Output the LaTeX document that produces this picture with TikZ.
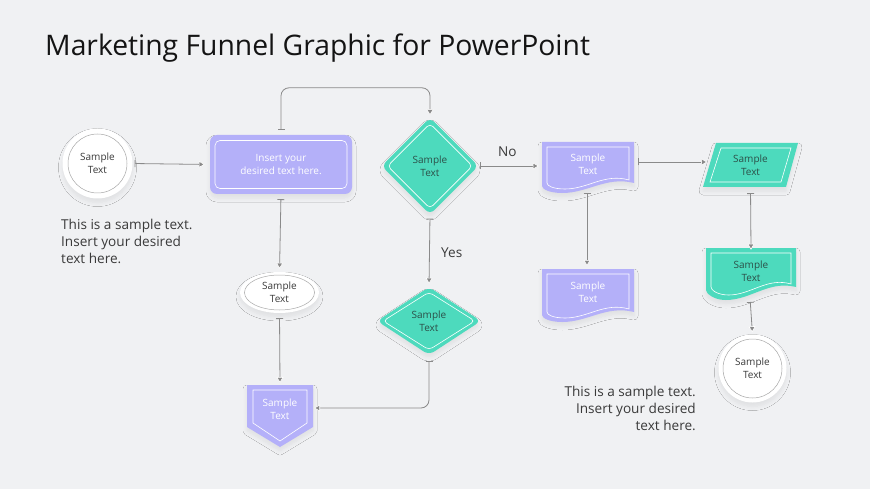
\documentclass[tikz,border=0pt]{standalone}
\usepackage{fontspec}
\setmainfont{Open Sans}
\usetikzlibrary{arrows.meta,shapes.geometric,calc,shadows.blur}
\definecolor{bg}{HTML}{F0F1F3}
\definecolor{purp}{HTML}{B4B0F9}
\definecolor{teal}{HTML}{4DDABD}
\definecolor{tealtxt}{HTML}{2C4F48}
\definecolor{conngray}{HTML}{8A8A8A}
\definecolor{txtgray}{HTML}{3A3A3A}
\definecolor{ringgray}{HTML}{A8A8A8}
\newcommand\docpath[5]{(#1,#2) -- ({#1+#3},#2) -- ({#1+#3},{#2+#4-3}) .. controls ({#1+0.7*#3},{#2+#4-10}) and ({#1+0.5*#3},{#2+#4+#5}) .. ({#1+0.22*#3},{#2+#4+#5}) .. controls ({#1+0.08*#3},{#2+#4+#5}) and (#1,{#2+#4+3}) .. (#1,#2+#4) -- cycle}
\tikzset{
  smalltxt/.style={font=\fontsize{10}{13}\selectfont, align=center, inner sep=0pt},
  conn/.style={draw=conngray, line width=0.8pt,
    {Bar[width=7pt,line width=0.8pt]}-{Triangle[length=6pt,width=7pt,color=white,fill=conngray,line width=0.6pt]}},
  lbl/.style={font=\fontsize{13.6}{17}\selectfont, text=txtgray, inner sep=0pt},
  shd/.style={blur shadow={shadow xshift=0pt, shadow yshift=-4pt, shadow blur steps=8, shadow opacity=7, shadow blur radius=4pt}},
}
\begin{document}
\begin{tikzpicture}[x=1pt,y=-1pt]
\fill[bg] (0,0) rectangle (870,489);
\useasboundingbox (0,0) rectangle (870,489);
% title
\node[anchor=base west, inner sep=0pt, font=\fontsize{28.3}{32}\selectfont, text=black!92] (title) at (45,56) {Marketing Funnel Graphic for PowerPoint};

% circle 1
\node[circle, fill=white, minimum size=70, inner sep=0pt, shd] (c1) at (97.5,163.5) {};
\node[circle, draw=ringgray, line width=0.5pt, minimum size=59, smalltxt, text=txtgray] (c1i) at (c1) {Sample\\Text};

% rectangle
\node[rectangle, rounded corners=7, fill=purp, minimum width=142, minimum height=59, inner sep=0pt, shd] (r1) at (281,164.5) {};
\node[rectangle, rounded corners=5, draw=white, line width=0.6pt, minimum width=132, minimum height=48, smalltxt, text=white] (r1i) at (r1) {Insert your\\desired text here.};

% diamond 1
\node[diamond, rounded corners=6, fill=teal, minimum width=97, minimum height=97, inner sep=0pt, shd] (d1) at (430,166) {};
\node[diamond, rounded corners=4, draw=white, line width=0.6pt, minimum width=85, minimum height=85, inner sep=0pt, smalltxt, text=tealtxt] (d1i) at (d1) {Sample\\Text};

% diamond 2
\node[diamond, rounded corners=6, fill=teal, minimum width=104, minimum height=68, aspect=1.5, inner sep=0pt, shd] (d2) at (429,321) {};
\node[diamond, rounded corners=4, draw=white, line width=0.6pt, minimum width=92, minimum height=58, aspect=1.5, inner sep=0pt, smalltxt, text=tealtxt] (d2i) at (d2) {Sample\\Text};

% ellipse
\node[ellipse, fill=white, minimum width=79, minimum height=41, inner sep=0pt, shd] (e1) at (279.5,292.5) {};
\node[ellipse, draw=ringgray, line width=0.5pt, minimum width=70, minimum height=35, inner sep=0pt, smalltxt, text=txtgray] (e1i) at (e1) {Sample\\Text};

% pentagon (off-page)
\fill[purp, shd] (247,385) -- (313,385) -- (313,427) -- (280,447) -- (247,427) -- cycle;
\draw[white, line width=0.6pt] (253,390) -- (307,390) -- (307,423) -- (280,441) -- (253,423) -- cycle;
\node[minimum width=66, minimum height=42, inner sep=0pt, smalltxt, text=white] (p1) at (280,409) {Sample\\Text};
\coordinate (p1n) at (280,385);
\coordinate (p1e) at (313,408);

% purple doc 1
\fill[purp, shd] \docpath{542}{142}{92}{44}{7};
\draw[white, line width=0.6pt] \docpath{547}{147}{82}{36}{6};
\node[minimum width=92, minimum height=44, inner sep=0pt, smalltxt, text=white] (doc1) at (588,164) {Sample\\Text};
\coordinate (doc1s) at (587,189);

% purple doc 2
\fill[purp, shd] \docpath{542}{269}{92}{46}{7};
\draw[white, line width=0.6pt] \docpath{547}{274}{82}{38}{6};
\node[minimum width=92, minimum height=46, inner sep=0pt, smalltxt, text=white] (doc2) at (588,292) {Sample\\Text};
\coordinate (doc2n) at (587,269);

% parallelogram
\fill[teal, shd] (716,143) -- (798,143) -- (786,187) -- (703,187) -- cycle;
\draw[white, line width=0.6pt] (721,148) -- (791,148) -- (781,182) -- (710,182) -- cycle;
\node[minimum width=80, minimum height=44, inner sep=0pt, smalltxt, text=tealtxt] (par) at (750.5,165) {Sample\\Text};

% teal doc
\fill[teal, shd] \docpath{706}{248}{90}{42}{10};
\draw[white, line width=0.6pt] \docpath{711}{253}{80}{34}{8};
\node[minimum width=90, minimum height=42, inner sep=0pt, smalltxt, text=tealtxt] (doc3) at (751,271) {Sample\\Text};
\coordinate (doc3s) at (750,298);

% circle 2
\node[circle, fill=white, minimum size=68, inner sep=0pt, shd] (c2) at (752.5,368.5) {};
\node[circle, draw=ringgray, line width=0.5pt, minimum size=59, smalltxt, text=txtgray] (c2i) at (c2) {Sample\\Text};

% connectors
\draw[conn, shorten <=2pt, shorten >=5pt] (c1.east) -- (r1.west);
\draw[conn, rounded corners=8, shorten <=5pt, shorten >=2pt] (r1.north) -- ++(0,-47) -| (d1.north);
\draw[conn, shorten <=5pt, shorten >=3pt] (r1.south) -- (e1.north);
\draw[conn, shorten <=5pt, shorten >=2pt] (e1.south) -- (p1n);
\draw[conn, shorten <=4pt, shorten >=3pt] (d1.south) -- (d2.north);
\draw[conn, rounded corners=8, shorten <=6pt, shorten >=1pt] (d2.south) |- (p1e);
\draw[conn, shorten <=1pt, shorten >=3pt] (d1.east) -- (doc1.west |- d1.east);
\draw[conn, shorten <=4pt, shorten >=3pt] (doc1.east) ++(0,-2) coordinate (q1) -- (q1 -| par.west) coordinate (q2);
\draw[conn, shorten <=4pt, shorten >=3pt] (doc1s) -- (doc2n);
\draw[conn, shorten <=6pt, shorten >=0pt] (par.south) -- (doc3.north);
\draw[conn, shorten <=4pt, shorten >=2pt] (doc3s) -- (c2.north);

% labels
\node[lbl, anchor=base west] (no) at (498,157) {No};
\node[lbl, anchor=base west] (yes) at (441,257) {Yes};
\node[lbl, anchor=north west, align=left] (t1) at (61,218.5) {This is a sample text.\\Insert your desired\\text here.};
\node[lbl, anchor=north east, align=right] (t2) at (696,385.5) {This is a sample text.\\Insert your desired\\text here.};
\end{tikzpicture}
\end{document}
